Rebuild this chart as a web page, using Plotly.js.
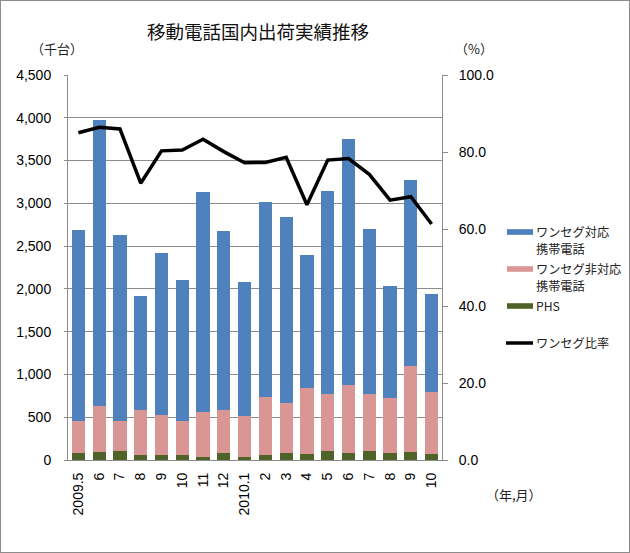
<!DOCTYPE html>
<html>
<head>
<meta charset="utf-8">
<script src="https://cdn.plot.ly/plotly-3.0.1.min.js"></script>
<style>
html,body{margin:0;padding:0;background:#fff;}
#wrap{width:628px;height:551px;border:1px solid #8c8c8c;}
#chart{width:628px;height:551px;}
</style>
</head>
<body>
<div id="wrap"><div id="chart"></div></div>
<script>
// ---- data ----
const months = ['2009.5','6','7','8','9','10','11','12','2010.1','2','3','4','5','6','7','8','9','10'];
const oneSeg = [2233,3338,2175,1335,1897,1647,2573,2088,1561,2283,2178,1550,2381,2880,1932,1307,2167,1144];
const nonOneSeg = [382,535,355,526,464,398,523,507,476,675,586,776,664,797,664,648,1003,729];
const phs = [78,97,105,59,59,59,39,78,39,59,78,67,105,78,105,78,97,67];
const oneSegRatio = [85.0,86.4,86.0,71.9,80.3,80.5,83.3,80.1,77.2,77.3,78.6,66.3,77.9,78.3,74.2,67.5,68.4,61.3];
const seriesNames = ['ワンセグ対応<br>携帯電話','ワンセグ非対応<br>携帯電話','PHS','ワンセグ比率'];
const seriesColors = ['#4F81BD','#DA9694','#4F6228','#000000'];
const titleText = '移動電話国内出荷実績推移';
const leftUnit = '（千台）';
const rightUnit = '（%）';
const xUnit = '（年,月）';

const idx = months.map((_, i) => i);
const numFont = 'Liberation Sans, Arial, sans-serif';
const jpFont = 'Noto Sans CJK JP, sans-serif';

// plot area in pixels (within the div): x 67..441, y 74..459
const L = 67, R = 187, T = 74, B = 92, W = 628, H = 551;
const pw = W - L - R, ph = H - T - B;
const px = x => (x - 1 - L) / pw;           // screen x -> paper
const py = y => (H - B - (y - 1)) / ph;     // screen y -> paper

const traces = [
  {type:'bar', x:idx, y:phs, name:seriesNames[2], marker:{color:seriesColors[2]}, showlegend:false, hoverinfo:'y'},
  {type:'bar', x:idx, y:nonOneSeg, name:seriesNames[1], marker:{color:seriesColors[1]}, showlegend:false, hoverinfo:'y'},
  {type:'bar', x:idx, y:oneSeg, name:seriesNames[0], marker:{color:seriesColors[0]}, showlegend:false, hoverinfo:'y'},
  {type:'scatter', mode:'lines', x:idx, y:oneSegRatio, yaxis:'y2', name:seriesNames[3],
   line:{color:seriesColors[3], width:3.5}, showlegend:false, hoverinfo:'y'}
];

// custom legend (swatch + label), drawn to match the reference's wide swatches
const shapes = [];
const annotations = [];
const legendRows = [232, 269, 306, 343];
legendRows.forEach((yy, i) => {
  if (i < 3) {
    shapes.push({type:'rect', xref:'paper', yref:'paper',
      x0:px(507), x1:px(533), y0:py(yy-2.8), y1:py(yy+2.8),
      fillcolor:seriesColors[i], line:{width:0}});
  } else {
    shapes.push({type:'line', xref:'paper', yref:'paper',
      x0:px(506), x1:px(533), y0:py(yy), y1:py(yy),
      line:{color:seriesColors[i], width:3.5}});
  }
  seriesNames[i].split('<br>').forEach((ln, k) => {
    annotations.push({xref:'paper', yref:'paper', x:px(535), y:py(yy - 0.4 + k*17.8),
      xanchor:'left', yanchor:'middle', align:'left', showarrow:false, text:ln,
      borderpad:0, font:{family:jpFont, size:12.2, color:'#222'}});
  });
});

annotations.push({xref:'paper', yref:'paper', x:px(258), y:py(31), xanchor:'center', yanchor:'middle',
  showarrow:false, text:titleText, font:{family:jpFont, size:18.5, color:'#111'}});
annotations.push({xref:'paper', yref:'paper', x:px(57), y:py(49), xanchor:'center', yanchor:'middle',
  showarrow:false, text:leftUnit, font:{family:jpFont, size:13, color:'#222'}});
annotations.push({xref:'paper', yref:'paper', x:px(474), y:py(49), xanchor:'center', yanchor:'middle',
  showarrow:false, text:rightUnit, font:{family:jpFont, size:13, color:'#222'}});
annotations.push({xref:'paper', yref:'paper', x:px(514), y:py(494), xanchor:'center', yanchor:'middle',
  showarrow:false, text:xUnit, font:{family:jpFont, size:13, color:'#222'}});

const layout = {
  width: W, height: H,
  margin:{l:L, r:R, t:T, b:B, pad:0},
  paper_bgcolor:'#fff', plot_bgcolor:'#fff',
  barmode:'stack', bargap:0.36,
  showlegend:false,
  font:{family:numFont, size:14, color:'#000'},
  xaxis:{range:[-0.5, 17.5], tickmode:'array', tickvals:idx, ticktext:months, tickangle:-90,
    showgrid:false, zeroline:false, showline:true, linecolor:'#8c8c8c', linewidth:1,
    ticks:'', ticklabelstandoff:6, tickfont:{family:numFont, size:14, color:'#000'}, fixedrange:true},
  yaxis:{range:[0, 4500], dtick:500, tick0:0, tickformat:',d', showgrid:true, gridcolor:'#8c8c8c', gridwidth:1,
    zeroline:false, showline:true, linecolor:'#8c8c8c', ticks:'outside', ticklen:3, tickcolor:'#8c8c8c',
    ticklabelstandoff:10, tickfont:{family:numFont, size:14, color:'#000'}, fixedrange:true},
  yaxis2:{range:[0, 100], dtick:20, tick0:0, tickformat:'.1f', overlaying:'y', side:'right',
    showgrid:false, zeroline:false, showline:true, linecolor:'#8c8c8c', ticks:'outside', ticklen:5,
    tickcolor:'#8c8c8c', ticklabelstandoff:8, tickfont:{family:numFont, size:14, color:'#000'}, fixedrange:true},
  shapes: shapes,
  annotations: annotations
};

Plotly.newPlot('chart', traces, layout, {displayModeBar:false, staticPlot:true});
</script>
</body>
</html>
